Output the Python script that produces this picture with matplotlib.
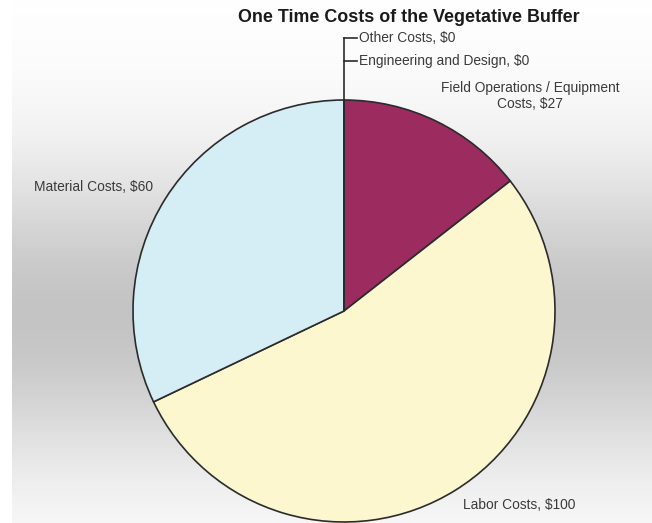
import numpy as np
import matplotlib
matplotlib.use("Agg")
import matplotlib.pyplot as plt

# One-time costs of the vegetative buffer (dollars)
categories = ["Field Operations / Equipment\nCosts", "Labor Costs", "Material Costs",
              "Engineering and Design", "Other Costs"]
values = [27, 100, 60, 0, 0]
colors = ["#9c2b60", "#fcf7cf", "#d5edf4", "#ffffff", "#ffffff"]

W, H, DPI = 652, 523, 100
fig = plt.figure(figsize=(W / DPI, H / DPI), dpi=DPI)
plt.rcParams["font.family"] = ["Liberation Sans", "DejaVu Sans"]

# Soft gray backdrop, lightest at top and bottom
bg = fig.add_axes([0, 0, 1, 1])
yy = np.arange(H)[:, None]
xx = np.arange(W)[None, :]
g = 1 - 0.23 * np.exp(-((yy - 315) / 150.0) ** 2) * np.ones_like(xx)
g[:, :12] = 1.0
bg.imshow(np.dstack([g, g, g]), aspect="auto", extent=[0, W, H, 0])
bg.set_xlim(0, W)
bg.set_ylim(H, 0)
bg.axis("off")

# Pie axes: centre at (344, 311) px, radius 211 px
cx, cy, r = 344, 311, 211
ax = fig.add_axes([(cx - r) / W, (H - cy - r) / H, 2 * r / W, 2 * r / H])
ax.axis("off")

wedges, _ = ax.pie(values, colors=colors, startangle=90, counterclock=False, radius=1,
                   wedgeprops=dict(edgecolor="#2b2b2b", linewidth=1.2))


def to_data(px, py):
    return (px - cx) / r, (cy - py) / r


tc = "#3a3a3a"
fs = 9.9
total = sum(values)


def label(i):
    return f"{categories[i]}, ${values[i]}"


# Labels for the sized slices
x, y = to_data(530, 96)
ax.text(x, y, label(0), ha="center", va="center", fontsize=fs, color=tc, linespacing=1.25,
        clip_on=False)
x, y = to_data(519, 505)
ax.text(x, y, label(1), ha="center", va="center", fontsize=fs, color=tc, clip_on=False)
x, y = to_data(93, 187)
ax.text(x, y, label(2), ha="center", va="center", fontsize=fs, color=tc, clip_on=False)

# Zero-valued slices sit at the closing edge; draw a leader up from there
theta = np.deg2rad(90 - 360 * sum(values[:3]) / total)
x0, y0 = np.cos(theta), np.sin(theta)
_, y_other = to_data(0, 38)
_, y_eng = to_data(0, 61)
ax.plot([x0, x0], [y0, y_other], color="#2b2b2b", lw=1.2, clip_on=False)
tick = 13 / r
for yl, i in [(y_eng, 3), (y_other, 4)]:
    ax.plot([x0, x0 + tick], [yl, yl], color="#2b2b2b", lw=1.2, clip_on=False)
    ax.text(x0 + tick + 2 / r, yl, label(i), ha="left", va="center", fontsize=fs,
            color=tc, clip_on=False)

ax.set_xlim(-1, 1)
ax.set_ylim(-1, 1)
ax.set_aspect("equal")

fig.text(409 / W, 1 - 17 / H, "One Time Costs of the Vegetative Buffer", ha="center",
         va="center", fontsize=12.9, fontweight="bold", color="#1a1a1a")

fig.savefig("out.png", dpi=DPI)
